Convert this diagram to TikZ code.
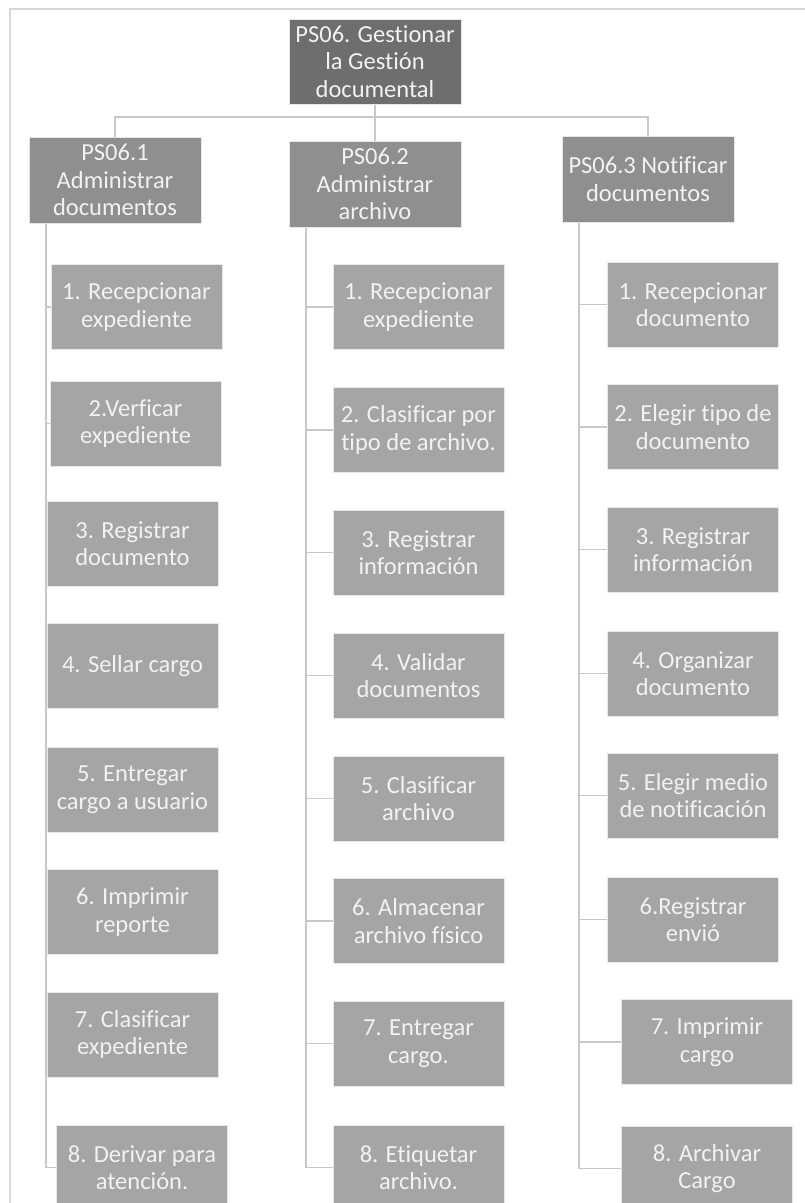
\documentclass[tikz,border=0pt]{standalone}
\usepackage{fontspec}
\setmainfont[Ligatures=NoCommon]{Carlito}
\definecolor{rootfill}{RGB}{110,110,110}
\definecolor{midfill}{RGB}{143,143,143}
\definecolor{leaffill}{RGB}{165,165,165}
\definecolor{linkgray}{RGB}{200,200,200}
\definecolor{framegray}{RGB}{215,215,215}
\definecolor{boxtext}{RGB}{242,242,242}
\definecolor{boxedge}{RGB}{232,232,232}

\tikzset{
  card/.style={draw=boxedge, line width=1pt, inner sep=0pt, align=center,
    text=boxtext, font=\fontsize{24.5}{27.5}\selectfont},
  rootcard/.style={card, fill=rootfill, minimum width=172pt, minimum height=85pt},
  groupcard/.style={card, fill=midfill, minimum width=172pt, minimum height=86pt},
  leafcard/.style={card, fill=leaffill, minimum width=171pt, minimum height=85pt},
  link/.style={draw=linkgray, line width=1.6pt},
}

\begin{document}
\begin{tikzpicture}[x=1pt, y=-1pt]
\useasboundingbox (0,0) rectangle (805,1203);
\clip (0,0) rectangle (805,1203);
\fill[white] (0,0) rectangle (805,1203);

% outer frame
\draw[framegray, line width=1.6pt] (10,1215) -- (10,9) -- (815,9);

% root and the three groups
\node[rootcard] (root) at (375,61.5) {PS06. Gestionar\\la Gestión\\documental};
\node[groupcard] (g1) at (115,180) {PS06.1\\Administrar\\documentos};
\node[groupcard] (g2) at (375,184) {PS06.2\\Administrar\\archivo};
\node[groupcard] (g3) at (648,179) {PS06.3 Notificar\\documentos};

% column 1: Administrar documentos
\node[leafcard] (a1) at (136.5,307)   {1. Recepcionar\\expediente};
\node[leafcard] (a2) at (135.5,423.5) {2.Verficar\\expediente};
\node[leafcard] (a3) at (132.5,543.5) {3. Registrar\\documento};
\node[leafcard] (a4) at (132.5,666)   {4. Sellar cargo};
\node[leafcard] (a5) at (132.5,789.5) {5. Entregar\\cargo a usuario};
\node[leafcard] (a6) at (132.5,912)   {6. Imprimir\\reporte};
\node[leafcard] (a7) at (132.5,1034.5){7. Clasificar\\expediente};
\node[leafcard] (a8) at (142,1167.5)  {8. Derivar para\\atención.};

% column 2: Administrar archivo
\node[leafcard] (b1) at (418.5,307)   {1. Recepcionar\\expediente};
\node[leafcard] (b2) at (418.5,430)   {2. Clasificar por\\tipo de archivo.};
\node[leafcard] (b3) at (418.5,552.5) {3. Registrar\\información};
\node[leafcard] (b4) at (418.5,675.5) {4. Validar\\documentos};
\node[leafcard] (b5) at (418.5,798.5) {5. Clasificar\\archivo};
\node[leafcard] (b6) at (418.5,921)   {6. Almacenar\\archivo físico};
\node[leafcard] (b7) at (418.5,1043.5){7. Entregar\\cargo.};
\node[leafcard] (b8) at (418.5,1167.5){8. Etiquetar\\archivo.};

% column 3: Notificar documentos
\node[leafcard] (c1) at (693,304.5)   {1. Recepcionar\\documento};
\node[leafcard] (c2) at (693,427)     {2. Elegir tipo de\\documento};
\node[leafcard] (c3) at (693,549.5)   {3. Registrar\\información};
\node[leafcard] (c4) at (693,673.5)   {4. Organizar\\documento};
\node[leafcard] (c5) at (693,795.5)   {5. Elegir medio\\de notificación};
\node[leafcard] (c6) at (693,919.5)   {6.Registrar\\envió};
\node[leafcard] (c7) at (707,1042)    {7. Imprimir\\cargo};
\node[leafcard] (c8) at (707,1168.5)  {8. Archivar\\Cargo};

% top-level connectors
\coordinate (bus) at (375,117);
\draw[link] (root.south) -- (bus);
\draw[link] (bus) -| (g1.north);
\draw[link] (bus) -- (g2.north);
\draw[link] (bus) -| (g3.north);

% column spines and their branches
\coordinate (sa) at (46,0);
\coordinate (sb) at (306,0);
\coordinate (sc) at (579,0);

\draw[link] (g1.south -| sa) |- (a8.west);
\draw[link] (g2.south -| sb) |- (b8.west);
\draw[link] (g3.south -| sc) |- (c8.west);
\foreach \n in {a1,a2,a3,a4,a5,a6,a7}
  \draw[link] (\n.west -| sa) -- (\n.west);
\foreach \n in {b1,b2,b3,b4,b5,b6,b7}
  \draw[link] (\n.west -| sb) -- (\n.west);
\foreach \n in {c1,c2,c3,c4,c5,c6,c7}
  \draw[link] (\n.west -| sc) -- (\n.west);
\end{tikzpicture}
\end{document}
